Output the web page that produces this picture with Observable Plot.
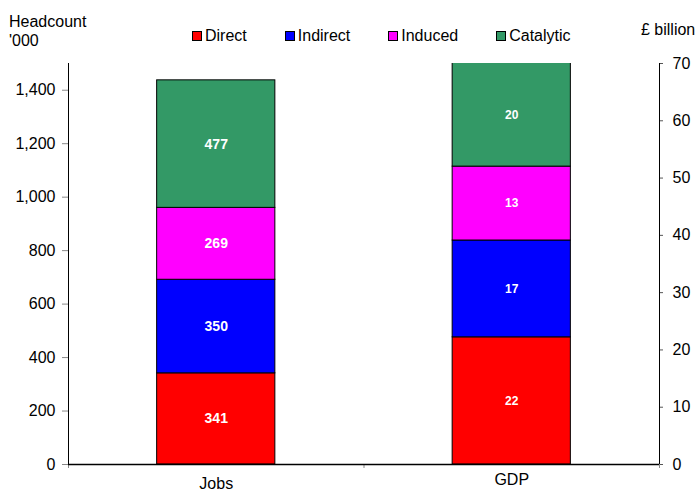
<!DOCTYPE html>
<html>
<head>
<meta charset="utf-8">
<script src="https://cdn.jsdelivr.net/npm/d3@7"></script>
<script src="https://cdn.jsdelivr.net/npm/@observablehq/plot@0.6"></script>
<style>
  html, body { margin: 0; padding: 0; background: #fff; }
  #wrap { position: relative; width: 697px; height: 491px; font-family: "Liberation Sans", Arial, sans-serif; color: #000; }
  #wrap svg { position: absolute; left: 0; top: 0; }
  .lbl { position: absolute; font-size: 16px; line-height: 19px; white-space: nowrap; }
  #legend { position: absolute; left: 192px; top: 26px; display: flex; gap: 38px; font-size: 16px; line-height: 19px; }
  #legend .item { display: flex; align-items: center; }
  #legend .sw { width: 8px; height: 8px; border: 1px solid #000; margin-right: 3px; margin-top: 1px; }
</style>
</head>
<body>
<div id="wrap">
  <div class="lbl" style="left:9px; top:12px;">Headcount<br>'000</div>
  <div class="lbl" style="left:641px; top:20px;">£ billion</div>
  <div id="legend"></div>
</div>
<script>
const categories = ["Jobs", "GDP"];
const series = ["Direct", "Indirect", "Induced", "Catalytic"];
const colors = ["#ff0000", "#0000ff", "#ff00ff", "#339966"];
const jobsValues = [341, 350, 269, 477];        // headcount '000 (left axis)
const gdpValues = [22.2, 16.9, 12.9, 20.0];     // £ billion (right axis)
const leftTicks = [0, 200, 400, 600, 800, 1000, 1200, 1400];
const rightTicks = [0, 10, 20, 30, 40, 50, 60, 70];
const leftMax = 1500, rightMax = 70;
const k = leftMax / rightMax;

// build stacked rows
const rows = [];
[jobsValues, gdpValues].forEach((vals, ci) => {
  let cum = 0;
  const scale = ci === 0 ? 1 : k;
  vals.forEach((v, si) => {
    rows.push({
      cat: categories[ci], ci, series: series[si], value: v,
      y1: cum * scale, y2: (cum + v) * scale,
      label: ci === 0 ? d3.format(",")(v) : d3.format(".0f")(v)
    });
    cum += v;
  });
});

const legend = document.getElementById("legend");
series.forEach((s, i) => {
  const it = document.createElement("div");
  it.className = "item";
  it.innerHTML = `<span class="sw" style="background:${colors[i]}"></span><span>${s}</span>`;
  legend.appendChild(it);
});

const chart = Plot.plot({
  width: 697,
  height: 491,
  marginTop: 63,
  marginBottom: 27,
  marginLeft: 68,
  marginRight: 38,
  style: { fontFamily: '"Liberation Sans", Arial, sans-serif', fontSize: "16px", color: "#000", background: "transparent" },
  x: { type: "linear", domain: [0, 2], axis: null },
  y: { domain: [0, leftMax], axis: null },
  color: { domain: series, range: colors },
  marks: [
    Plot.rect(rows, {
      x1: d => d.ci + 0.3, x2: d => d.ci + 0.7,
      y1: "y1", y2: "y2",
      fill: "series", stroke: "#000", strokeWidth: 1, clip: true
    }),
    Plot.text(rows.filter(d => d.ci === 0), {
      x: d => d.ci + 0.5, y: d => (d.y1 + d.y2) / 2, text: "label",
      fill: "#fff", fontWeight: "bold", fontSize: 14
    }),
    Plot.text(rows.filter(d => d.ci === 1), {
      x: d => d.ci + 0.5, y: d => (d.y1 + Math.min(d.y2, leftMax)) / 2, text: "label",
      fill: "#fff", fontWeight: "bold", fontSize: 12
    }),
    Plot.axisY({ anchor: "left", ticks: leftTicks, tickFormat: d3.format(","), tickSize: 6, tickPadding: 7, fontSize: 16, stroke: "#888", fill: "#000" }),
    Plot.axisY({ anchor: "right", ticks: rightTicks.map(v => v * k), tickFormat: v => String(Math.round(v / k)), tickSize: 3, tickPadding: 10, fontSize: 16, stroke: "#555", fill: "#000" }),
    Plot.axisX({ ticks: [0, 1, 2], tickFormat: () => "", tickSize: 4, stroke: "#888" }),
    Plot.text(["Jobs"], { x: () => 0.5, y: 0, dy: 19, fontSize: 16, fill: "#000" }),
    Plot.text(["GDP"], { x: () => 1.5, y: 0, dy: 15, fontSize: 16, fill: "#000" }),
    Plot.ruleX([0, 2], { stroke: "#000", strokeWidth: 1 }),
    Plot.ruleY([0], { stroke: "#000", strokeWidth: 1.5 })
  ]
});
document.getElementById("wrap").prepend(chart);
</script>
</body>
</html>
